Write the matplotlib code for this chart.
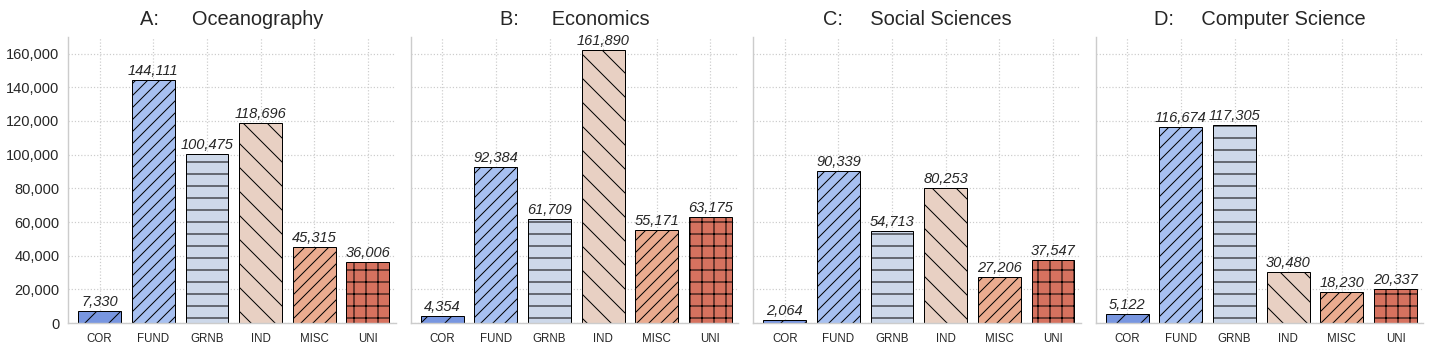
import matplotlib
matplotlib.use("Agg")
import matplotlib.pyplot as plt
from matplotlib.ticker import FuncFormatter
import seaborn as sns

sns.set_style("whitegrid")
plt.rcParams['font.family'] = ['Liberation Sans', 'DejaVu Sans']
plt.rcParams['hatch.linewidth'] = 1.0

# данные
categories = ["COR", "FUND", "GRNB", "IND", "MISC", "UNI"]
panels = ["A:      Oceanography", "B:      Economics", "C:     Social Sciences", "D:     Computer Science"]
oceanography = [7330, 144111, 100475, 118696, 45315, 36006]
economics = [4354, 92384, 61709, 161890, 55171, 63175]
social = [2064, 90339, 54713, 80253, 27206, 37547]
compsci = [5122, 116674, 117305, 30480, 18230, 20337]
values = [oceanography, economics, social, compsci]

colors = ["#7896e0", "#a7c0f0", "#cdd8e9", "#e8d0c3", "#eaab8f", "#d6725f"]
hatches = ["/", "//", "-", "\\", "//", "+"]

DPI = 72
fig, axes = plt.subplots(1, 4, figsize=(1432 / DPI, 350 / DPI), dpi=DPI, sharey=True)
fig.subplots_adjust(left=0.0475, right=0.994, top=0.895, bottom=0.077, wspace=0.045)

for ax, title, vals in zip(axes, panels, values):
    x = range(len(categories))
    bars = ax.bar(x, vals, width=0.8, color=colors, edgecolor="black", linewidth=1.0)
    for b, h in zip(bars, hatches):
        b.set_hatch(h)
    for xi, v in zip(x, vals):
        ax.text(xi, v + 1200, f"{v:,}", ha="center", va="bottom",
                fontsize=14.6, style="italic", color="#262626")
    ax.set_xticks(list(x))
    ax.set_xticklabels(categories, fontsize=11.5)
    ax.set_xlim(-0.59, 5.52)
    ax.set_ylim(0, 170000)
    ax.set_yticks(range(0, 170000, 20000))
    ax.yaxis.set_major_formatter(FuncFormatter(lambda v, p: f"{int(v):,}"))
    ax.tick_params(axis="y", labelsize=14.6, pad=5)
    ax.tick_params(axis="x", pad=6)
    ax.grid(True, linestyle=":", color="#cccccc", linewidth=1.2)
    ax.set_axisbelow(True)
    ax.set_title(title, fontsize=20, pad=12)
    for s in ["top", "right"]:
        ax.spines[s].set_visible(False)
    for s in ["left", "bottom"]:
        ax.spines[s].set_color("#cccccc")
        ax.spines[s].set_linewidth(1.4)

for ax in axes[1:]:
    ax.tick_params(axis="y", left=False, labelleft=False)

fig.savefig("out.png", dpi=DPI)
